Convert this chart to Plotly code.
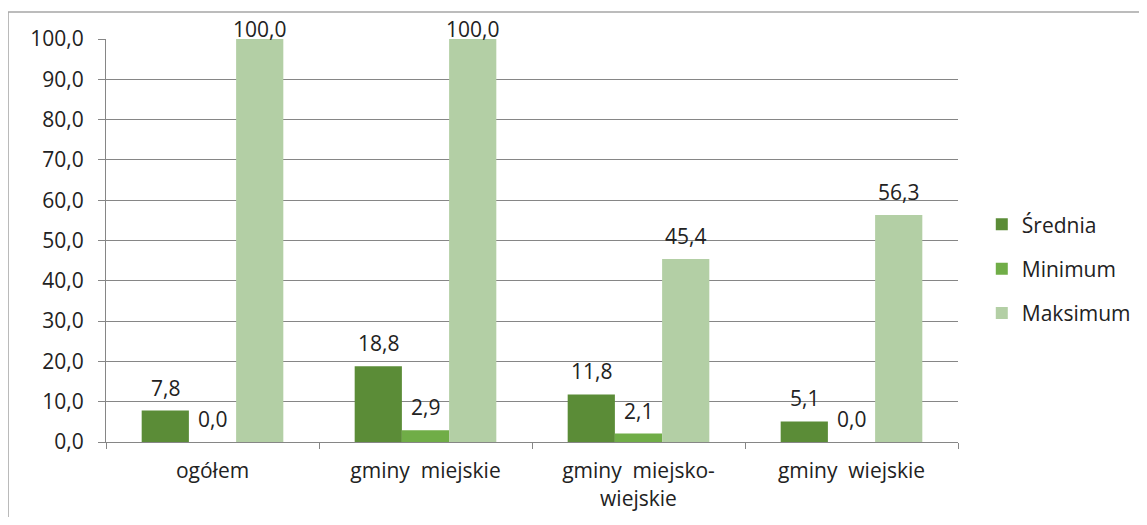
import plotly.graph_objects as go

categories = ["ogółem", "gminy  miejskie", "gminy  miejsko-<br>wiejskie", "gminy  wiejskie"]
srednia = [7.8, 18.8, 11.8, 5.1]
minimum = [0.0, 2.9, 2.1, 0.0]
maksimum = [100.0, 100.0, 45.4, 56.3]
series_names = ["Średnia", "Minimum", "Maksimum"]
colors = ["#5b8c37", "#70ad47", "#b3cfa5"]
y_ticks = [0, 10, 20, 30, 40, 50, 60, 70, 80, 90, 100]

FONT = "Open Sans"
FS = 21
fig = go.Figure()
for name, vals, col in zip(series_names, [srednia, minimum, maksimum], colors):
    fig.add_trace(go.Bar(x=categories, y=vals, name=name, marker_color=col,
                         marker_line_width=0, legendgroup=name))

# value labels above bars
bar_w = 47
for i, vals in enumerate([srednia, minimum, maksimum]):
    for cat, v in zip(categories, vals):
        shift = -6 if v >= 100 else 7
        fig.add_annotation(x=cat, y=v, text=f"{v:.1f}".replace(".", ","),
                           showarrow=False, xshift=(i - 1) * bar_w,
                           yanchor="bottom", yshift=shift,
                           font=dict(family=FONT, size=FS, color="#222"))

# outer chart border (top and left only visible)
border = dict(color="#a6a6a6", width=1.5)
fig.add_shape(type="line", xref="paper", yref="paper",
              x0=-0.115, x1=1.25, y0=1.067, y1=1.067, line=border)
fig.add_shape(type="line", xref="paper", yref="paper",
              x0=-0.115, x1=-0.115, y0=-0.3, y1=1.067, line=border)

fig.update_layout(
    width=1131, height=509,
    margin=dict(l=98, r=181, t=31, b=75),
    plot_bgcolor="white", paper_bgcolor="white",
    barmode="group", bargap=0.335, bargroupgap=0,
    separators=", ",
    font=dict(family=FONT, size=FS, color="#222"),
    legend=dict(xref="container", x=0.861, y=0.43, yanchor="middle",
                xanchor="left", font=dict(family=FONT, size=FS),
                tracegroupgap=14, traceorder="grouped"),
    showlegend=True,
)
fig.update_xaxes(showline=True, linecolor="#868686", ticks="outside",
                 tickson="boundaries", ticklen=6, tickcolor="#868686",
                 tickfont=dict(size=FS), ticklabelstandoff=10,
                 automargin=False)
fig.update_yaxes(range=[0, 100], tickvals=y_ticks, tickformat=".1f",
                 showgrid=True, gridcolor="#868686", gridwidth=1,
                 showline=True, linecolor="#868686", ticks="outside",
                 ticklen=7, tickcolor="#868686", zeroline=False,
                 tickfont=dict(size=FS), ticklabelstandoff=10,
                 automargin=False)

fig.write_html("out.html")
